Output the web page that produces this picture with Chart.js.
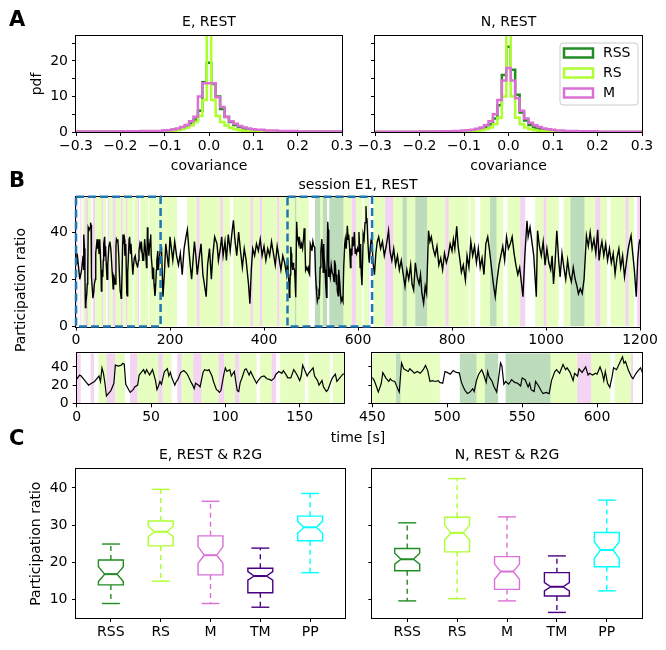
<!DOCTYPE html>
<html lang="en">
<head>
<meta charset="UTF-8">
<title>Participation ratio of brain states</title>
<script src="https://cdn.jsdelivr.net/npm/chart.js@4.4.0/dist/chart.umd.min.js"></script>
<style>
    body { margin: 0; background: #fff; font-family: 'DejaVu Sans', sans-serif; }
    #page { position: relative; width: 666px; height: 650px; overflow: hidden; }
    canvas { position: absolute; }
    .panel { position: absolute; font-weight: bold; font-size: 21px; line-height: 21px; color: #000; }
    .label { position: absolute; font-size: 14px; line-height: 17px; color: #000; white-space: nowrap; }
</style>
</head>
<body>
<div id="page">
    <canvas id="histE"></canvas>
    <canvas id="histN"></canvas>
    <canvas id="prMain"></canvas>
    <canvas id="prZoomA"></canvas>
    <canvas id="prZoomB"></canvas>
    <canvas id="boxE"></canvas>
    <canvas id="boxN"></canvas>

    <div class="panel" style="left:9px;top:9px">A</div>
    <div class="panel" style="left:9px;top:170px">B</div>
    <div class="panel" style="left:9px;top:428px">C</div>
    <div class="label" style="left:20px;top:290px;transform:translate(-50%,-50%) rotate(-90deg)">Participation ratio</div>
    <div class="label" style="left:358px;top:437px;transform:translate(-50%,-50%)">time [s]</div>
</div>

<script>
'use strict';

// ---------- A: covariance histograms ----------
// bin edges (finer near zero), one value per bin
const covEdges = [-0.3, -0.2, -0.155, -0.125, -0.105, -0.095, -0.085, -0.075, -0.065, -0.055, -0.045,
    -0.035, -0.025, -0.015, -0.005, 0.005, 0.015, 0.025, 0.035, 0.045, 0.055, 0.065, 0.075, 0.085,
    0.095, 0.105, 0.125, 0.155, 0.2, 0.3];

const histE_RSS = [0.05, 0.1, 0.15, 0.2, 0.3, 0.4, 0.6, 0.8, 1.1, 1.6, 2.4, 3.5, 6.0, 14.0, 19.5, 13.5, 10.0, 6.5, 4.2, 2.8, 2.0, 1.4, 1.0, 0.7, 0.5, 0.35, 0.2, 0.1, 0.05];
const histE_RS  = [0.02, 0.05, 0.08, 0.1, 0.15, 0.2, 0.3, 0.5, 0.8, 1.2, 1.8, 2.8, 4.5, 9.0, 40, 9.0, 4.5, 2.8, 1.8, 1.2, 0.8, 0.5, 0.3, 0.2, 0.15, 0.1, 0.08, 0.05, 0.02];
const histE_M   = [0.15, 0.2, 0.25, 0.3, 0.4, 0.5, 0.7, 1.0, 1.4, 2.0, 3.0, 4.3, 10.0, 13.7, 13.7, 13.7, 9.8, 7.0, 4.3, 3.0, 2.3, 1.7, 1.3, 1.0, 0.8, 0.6, 0.4, 0.25, 0.12];

const histN_RSS = [0.03, 0.05, 0.1, 0.15, 0.2, 0.3, 0.4, 0.6, 0.9, 1.4, 2.2, 3.8, 7.5, 16, 24, 17.5, 10.5, 5.5, 3.2, 2.0, 1.3, 0.9, 0.6, 0.4, 0.3, 0.2, 0.12, 0.06, 0.03];
const histN_RS  = [0.02, 0.04, 0.06, 0.08, 0.1, 0.15, 0.2, 0.3, 0.5, 0.8, 1.3, 2.2, 4.0, 10, 45, 10, 4.0, 2.2, 1.3, 0.8, 0.5, 0.3, 0.2, 0.15, 0.1, 0.08, 0.06, 0.04, 0.02];
const histN_M   = [0.1, 0.15, 0.2, 0.3, 0.4, 0.5, 0.6, 0.9, 1.3, 1.9, 3.0, 5.0, 9.0, 14.5, 18, 14.5, 9.5, 6.0, 3.8, 2.6, 1.9, 1.4, 1.0, 0.8, 0.6, 0.45, 0.3, 0.2, 0.1];

const covTicks = [-0.3, -0.2, -0.1, 0, 0.1, 0.2, 0.3];
const pdfTicks = [0, 5, 10, 15, 20, 25];

const stateNames = ['RSS', 'RS', 'M'];
const stateColors = { RSS: '#228b22', RS: '#adff2f', M: '#da70d6' };
const bandColors = { RSS: 'rgba(34,139,34,0.3)', RS: 'rgba(173,255,47,0.3)', M: 'rgba(218,112,214,0.3)' };

// ---------- B: participation ratio time series, session E1 ----------
const participation = [
    [0,26.7],[2,31],[3,30],[5,26],[7,22],[8,20],[10,22],[12,24],[13,26],[15,30],[16,24],[17,39],[18,33],[19,22],[20,8],[21,10],[23,14],[24,18],[25,22],[26,42],[28,41],[30,42],[31,44],[32,43],[33,21],[35,15],[36,12],[38,15],[39,18],[41,20],[42,31],[44,35],[45,37],[46,33],[47,37],[49,31],[50,34],[51,37],[53,25],[54,15],[55,19],[56,24],[57,21],[58,28],[59,35],[61,38],[62,30],[63,34],[64,28],[66,20],[67,24],[68,26],[70,34],[71,35],[72,36],[74,33],[75,30],[77,23],[78,20],[79,16],[80,22],[82,20],[83,18],[85,34],[86,37],[88,36],[89,37],[91,30],[92,24],[94,15],[95,14],[96,12],[97,14],[99,32],[100,39],[101,35],[103,37],[104,30],[106,35],[107,24],[108,14],[109,13],[110,23],[111,27],[113,37],[114,38],[116,31],[117,35],[119,28],[121,22],[122,25],[124,29],[126,30],[128,27],[130,26],[131,25],[133,28],[134,32],[136,35],[138,33],[139,36],[141,31],[142,28],[144,28],[146,37],[148,32],[150,25],[151,30],[152,42],[153,38],[155,30],[156,33],[158,37],[159,39],[160,30],[162,25],[163,20],[165,25],[166,18],[168,13],[169,15],[171,24],[172,28],[174,32],[175,24],[177,28],[179,32],
    [182,33],[185,12.6],[188,22],[191,35],[194,30],[197,25],[200,38],[203,33],[206,28],[210,36],[214,30],[218,26],[222,31],[226,22],[230,33],[234,38],[237,41],[240,33],[243,26],[246,20],[249,28],[252,36],[255,30],[258,22],[262,29],[266,35],[270,22],[273,18],[277,12.6],[280,26],[284,33],[288,20],[291,30],[295,38],[300,35],[303,28],[307,33],[310,38],[313,30],[317,36],[320,28],[324,39],[328,32],[332,40],[335,45],[338,37],[342,30],[346,40],[350,32],[354,25],[358,33],[362,28],[365,22],[367,18],[370,9.7],[373,24],[376,33],[380,30],[384,35],[388,32],[392,37],[396,30],[400,34],[404,28],[408,33],[412,30],[416,36],[420,31],[424,26],[428,34],[432,29],[436,24],[440,30],[444,27],[448,22],
    [450,28],[451,26],[452,22],[454,12.4],[455,17],[456,22],[457,33.8],[458,31],[459,28],[461,24],[462,27],[463,25],[465,24],[466,20],[467,16],[468,12.4],[469.5,44.4],[471,38],[472,37],[474,35],[475,38],[477,35],[478,33],[480,35],[482,33],[484,37],[485.5,41.6],[487,36],[488.5,24],[490,25],[492,24],[494,25],[495,23],[497,22],[498.5,35],[500,34],[502,32],[504,36],[506,34],[508,33.5],[509.5,23],[511,17],[512,14],[513.5,10.7],[515,12],[517,16],[518,13],[519.5,25],[521,32],[523,37],[524,33],[526,23],[527,35],[528,29],[530,24],[531,19],[533,12.4],[534,24],[535.6,44.4],[536.5,41],[537.8,21],[539,24],[541,21],[543,26],[545,23],[547,22],[549,19],[550,28],[552,26],[554,18],[555,22],[556,15],[558,13],[559,24],[561,19],[563,13],[564,10.7],[566,12],[568,10.7],[569.6,25],[571.8,35],[573,37],[575,33],[577.3,42.7],[579,37],[580,39],[582,34],[584,25],[585,33],[587,30],[588,38],[590,34],[592.4,40],[594,31],[595,33],[597,31],[599,33],[600,32],[602,40],[603.5,33],[604.5,25],[605.5,35],[607,22],[608.5,17.5],[610,29],[611,39],[613,37],[615,44],[617,51],[618,44],[619,46],[621,36],[623,29],[624,27],[626,33],[628,37],[629,39],
    [632,27],[635,22],[638,31],[641,36],[644,38],[648,33],[652,36],[656,30],[660,34],[665,40.6],[668,32],[672,28],[676,33],[680,26],[684,30],[688,24],[692,28],[697,21],[700,17],[704,24],[708,20],[712,26],[715,18],[718.5,15.4],[722,27],[726,21],[730,18],[733,22],[736,14],[739.6,9.8],[743,17],[746,14],[750,40.6],[753,36],[756,38],[760,33],[764,30],[768,34],[772,26],[776,29],[780,24],[784,31],[788,27],[792,30],[796,35],[800,32],[803,37],[806,33],[810,42.5],[813,34],[817,28],[820,23],[824,26],[828.5,19.6],[832,30],[836,25],[840,36],[844,30],[848,34],[852,27],[856,33],[860,25],[864,29],[868,22],[872,35],[876,38],[880,32],[884,25],[888,18],[892,12.6],[896,20],[900,26],[904,30],[908,34],[912,28],[916,38],[920,33],[924,35],[928,38],[932,31],[936,26],[940,22],[944,25],[948,18],[951,12.6],[955,30],[959.5,44.8],[962,38],[966,42],[970,36],[974,30],[977,20],[979.4,12.6],[982,40.6],[986,34],[990,30],[994,36],[998,26],[1002,33],[1006,27],[1010,24],[1013,30],[1016,18],[1019,26],[1023,40.6],[1027,28],[1030,21],[1034,31],[1038,25],[1042,20],[1046,28],[1050,22],[1054,19],[1058,25],[1062,20],[1066,17],[1069,13.8],[1073,16],[1077,14],[1081,20],[1086,38.5],[1090,34],[1094,40],[1098,33],[1102,37],[1106,31],[1110,41],[1113,28],[1116,33],[1119,36],[1123,30],[1127,35],[1131,28],[1135,33],[1139,27],[1143,31],[1147,22.3],[1151,29],[1155,33],[1159,25],[1163,30],[1167,21],[1171,27],[1175,33],[1178,36],[1181,38.5],[1184,32],[1188,24],[1192,12.6],[1195,28],[1198,35],[1200,37]
];

// state of each time window: [start s, end s, state]
const stateBands = [
    [0,2.7,'M'],[9.4,11.6,'M'],[14.6,20.1,'RS'],[20.1,25.8,'M'],[25.8,32.5,'RS'],[35.9,40.8,'M'],[40.8,54.9,'RS'],[54.9,57.8,'M'],[57.8,63.9,'RS'],[67.7,70.6,'M'],[70.6,78.4,'RS'],[78.4,84,'M'],[84,95.4,'RS'],[95.4,99.1,'M'],[99.1,106.5,'RS'],[106.5,109.4,'M'],[109.4,121,'RS'],[123.3,131.2,'RS'],[131.2,134.1,'M'],[136.8,153.6,'RS'],[155.8,170.4,'RS'],[172.2,180,'RS'],
    [180,215,'RS'],[236,257,'RS'],[257,263,'M'],[263,307,'RS'],[307,312.7,'M'],[312.7,328,'RS'],[334,371,'RS'],[371,376.5,'M'],[376.5,391,'RS'],[391,396,'M'],[396,428,'RS'],[428,432.5,'M'],[432.5,450,'RS'],
    [450,465.8,'RS'],[465.8,468.9,'RSS'],[468.9,495.1,'RS'],[508.4,519.6,'RSS'],[519.6,525.1,'RS'],[525.1,534,'RSS'],[539,569,'RSS'],[569,586.8,'RS'],[586.8,596.1,'M'],[596.1,609,'RS'],[611.7,622.8,'RS'],[622.8,624,'M'],
    [633,657.5,'RS'],[657.5,675,'M'],[675,695,'RS'],[695,704,'RSS'],[704,722,'RS'],[722,747,'RSS'],[747,786,'RS'],[786,793,'M'],[793,835.5,'RS'],[839,849,'RS'],[860,881,'RS'],[881,895,'RSS'],[895,909,'RS'],[918,945,'RS'],[945,956,'M'],[977,995,'RS'],[995,1001,'M'],[1001,1027,'RS'],[1037.5,1052,'RS'],[1052,1082,'RSS'],[1082,1105,'RS'],[1105,1115.5,'M'],[1115.5,1130,'RS'],[1137,1169,'RS'],[1169,1176,'M'],[1176,1187,'RS'],[1194,1200,'M']
];

const zoomWindows = [[0, 180], [450, 630]];
const timeTicks = [0, 200, 400, 600, 800, 1000, 1200];
const zoomTicksA = [0, 50, 100, 150];
const zoomTicksB = [450, 500, 550, 600];
const prTicks = [0, 20, 40];

// ---------- C: notched box plots ----------
const boxCategories = ['RSS', 'RS', 'M', 'TM', 'PP'];
const boxColors = ['#228b22', '#adff2f', '#da70d6', '#4b0082', '#00ffff'];
const boxTicks = [10, 20, 30, 40];

const eWhiskLo = [8.9, 14.9, 8.9, 7.9, 17.2];
const eQ1      = [13.9, 24.4, 16.6, 11.8, 25.8];
const eNotchLo = [14.8, 26.9, 19.7, 15.2, 27.8];
const eMedian  = [16.8, 28.2, 21.9, 16.3, 29.4];
const eNotchHi = [18.8, 29.7, 24.2, 17.5, 31.0];
const eQ3      = [20.6, 31.1, 27.1, 18.4, 32.4];
const eWhiskHi = [24.9, 39.6, 36.4, 23.8, 38.5];

const nWhiskLo = [9.6, 10.2, 9.6, 6.5, 12.3];
const nQ1      = [17.7, 22.8, 12.7, 10.9, 18.8];
const nNotchLo = [19.5, 26.0, 15.4, 12.3, 21.0];
const nMedian  = [20.8, 27.9, 17.5, 13.4, 23.3];
const nNotchHi = [22.4, 30.0, 19.5, 14.5, 25.5];
const nQ3      = [23.7, 32.1, 21.5, 17.2, 28.0];
const nWhiskHi = [30.6, 42.5, 32.2, 21.7, 36.7];

// ---------- helpers ----------
Chart.defaults.font.family = "'DejaVu Sans', sans-serif";
Chart.defaults.font.size = 14;
Chart.defaults.color = '#000';

const LH = 16.8; // 14px * 1.2

function axis(min, max, ticks, size, o) {
    o = o || {};
    return {
        type: 'linear', min: min, max: max, bounds: 'data',
        afterBuildTicks: s => { s.ticks = ticks.map(v => ({ value: v })); },
        grid: { drawOnChartArea: false, drawTicks: true, tickLength: 4, tickWidth: 1, color: '#000' },
        border: { display: false },
        ticks: {
            autoSkip: false, maxRotation: 0, minRotation: 0,
            padding: o.pad == null ? 3 : o.pad, color: '#000',
            callback: o.fmt || (v => String(v))
        },
        title: { display: !!o.title, text: o.title || '', color: '#000', padding: o.titlePad || 0 }
    };
}

const framePlugin = {
    id: 'frame',
    afterDatasetsDraw(chart) {
        const { ctx, chartArea: a } = chart;
        ctx.save();
        ctx.strokeStyle = '#000';
        ctx.lineWidth = 1;
        const l = Math.round(a.left) - 0.5, t = Math.round(a.top) - 0.5;
        ctx.strokeRect(l, t, Math.round(a.right) - Math.round(a.left) + 1, Math.round(a.bottom) - Math.round(a.top) + 1);
        ctx.restore();
    }
};

const bandPlugin = {
    id: 'bands',
    beforeDatasetsDraw(chart, args, o) {
        if (!o.segments) return;
        const { ctx, chartArea: a, scales: { x } } = chart;
        ctx.save();
        ctx.beginPath();
        ctx.rect(a.left, a.top, a.right - a.left, a.bottom - a.top);
        ctx.clip();
        o.segments.forEach(([s, e, st]) => {
            const x0 = x.getPixelForValue(s), x1 = x.getPixelForValue(e);
            ctx.fillStyle = bandColors[st];
            ctx.fillRect(x0, a.top, x1 - x0, a.bottom - a.top);
        });
        ctx.restore();
    }
};

const zoomBoxPlugin = {
    id: 'zoomBoxes',
    afterDraw(chart, args, o) {
        if (!o.windows) return;
        const { ctx, scales: { x, y } } = chart;
        ctx.save();
        ctx.strokeStyle = '#1f77b4';
        ctx.lineWidth = 2.5;
        ctx.setLineDash([8, 4]);
        o.windows.forEach(([s, e]) => {
            const x0 = x.getPixelForValue(s), x1 = x.getPixelForValue(e);
            const y0 = y.getPixelForValue(y.max), y1 = y.getPixelForValue(y.min);
            ctx.strokeRect(x0, y0, x1 - x0, y1 - y0);
        });
        ctx.restore();
    }
};

const legendPlugin = {
    id: 'stateLegend',
    afterDraw(chart, args, o) {
        if (!o.show) return;
        const { ctx, chartArea: a } = chart;
        const x0 = a.right - 82, y0 = a.top + 7, w = 78, h = 62, r = 3;
        ctx.save();
        ctx.beginPath();
        ctx.roundRect(x0, y0, w, h, r);
        ctx.fillStyle = 'rgba(255,255,255,0.8)';
        ctx.fill();
        ctx.strokeStyle = '#cccccc';
        ctx.lineWidth = 1;
        ctx.stroke();
        ctx.font = "14px 'DejaVu Sans', sans-serif";
        ctx.textBaseline = 'middle';
        chart.data.datasets.forEach((ds, i) => {
            const cy = y0 + 10 + i * 20;
            ctx.strokeStyle = ds.borderColor;
            ctx.lineWidth = 2.5;
            ctx.strokeRect(x0 + 4, cy - 4.5, 29, 9);
            ctx.fillStyle = '#000';
            ctx.fillText(ds.label, x0 + 43, cy);
        });
        ctx.restore();
    }
};

const boxPlugin = {
    id: 'boxes',
    afterDatasetsDraw(chart, args, o) {
        if (!o.med) return;
        const { ctx, scales: { x, y } } = chart;
        const line = (x0, y0, x1, y1) => { ctx.beginPath(); ctx.moveTo(x0, y0); ctx.lineTo(x1, y1); ctx.stroke(); };
        ctx.save();
        o.med.forEach((m, i) => {
            const pos = i + 1;
            const L = x.getPixelForValue(pos - 0.25), R = x.getPixelForValue(pos + 0.25);
            const wl = x.getPixelForValue(pos - 0.125), wr = x.getPixelForValue(pos + 0.125);
            const cl = x.getPixelForValue(pos - 0.18), cr = x.getPixelForValue(pos + 0.18);
            const xc = x.getPixelForValue(pos);
            const P = v => y.getPixelForValue(v);
            ctx.strokeStyle = boxColors[i];
            ctx.lineWidth = 1.4;
            ctx.setLineDash([]);
            ctx.beginPath();
            ctx.moveTo(L, P(o.q1[i])); ctx.lineTo(R, P(o.q1[i])); ctx.lineTo(R, P(o.nlo[i]));
            ctx.lineTo(wr, P(m)); ctx.lineTo(R, P(o.nhi[i])); ctx.lineTo(R, P(o.q3[i]));
            ctx.lineTo(L, P(o.q3[i])); ctx.lineTo(L, P(o.nhi[i])); ctx.lineTo(wl, P(m));
            ctx.lineTo(L, P(o.nlo[i])); ctx.closePath();
            ctx.stroke();
            ctx.lineWidth = 2;
            line(wl, P(m), wr, P(m));
            ctx.lineWidth = 1.4;
            line(cl, P(o.hi[i]), cr, P(o.hi[i]));
            line(cl, P(o.lo[i]), cr, P(o.lo[i]));
            ctx.setLineDash([5, 4]);
            line(xc, P(o.q3[i]), xc, P(o.hi[i]));
            line(xc, P(o.q1[i]), xc, P(o.lo[i]));
        });
        ctx.restore();
    }
};

// place a canvas so that its plot area lands on the given page rectangle
function place(id, box, area, config, title) {
    const cv = document.getElementById(id);
    cv.width = box.w; cv.height = box.h;
    cv.style.left = box.l + 'px'; cv.style.top = box.t + 'px';
    const topSpace = area.t - box.t;
    config.options.layout = {
        autoPadding: false,
        padding: { left: 0, right: box.l + box.w - area.r, bottom: 0, top: title ? 0 : topSpace }
    };
    config.options.scales.x.afterFit = s => { s.height = box.t + box.h - area.b; s.paddingLeft = s.paddingRight = s.paddingTop = s.paddingBottom = 0; };
    config.options.scales.y.afterFit = s => { s.width = area.l - box.l; s.paddingLeft = s.paddingRight = s.paddingTop = s.paddingBottom = 0; };
    if (title) {
        config.options.plugins.title = {
            display: true, text: title.text, color: '#000', fullSize: false,
            font: { size: 14, weight: 'normal' },
            padding: { top: title.cy - box.t - LH / 2, bottom: topSpace - LH - (title.cy - box.t - LH / 2) }
        };
    }
    config.options.responsive = false;
    config.options.animation = false;
    config.options.devicePixelRatio = 1;
    config.options.events = [];
    config.options.plugins.legend = { display: false };
    config.options.plugins.tooltip = { enabled: false };
    return new Chart(cv, config);
}

function stepPoints(values) {
    const last = covEdges[covEdges.length - 1];
    const pts = [{ x: covEdges[0], y: 0 }];
    values.forEach((v, i) => pts.push({ x: covEdges[i], y: v }));
    pts.push({ x: last, y: values[values.length - 1] });
    pts.push({ x: last, y: 0 });
    return pts;
}

const covFmt = v => (Math.abs(v) < 1e-9 ? '0.0' : v.toFixed(1).replace('-', '\u2212'));
const pdfFmt = v => (v % 10 === 0 ? String(v) : '');
const noLabel = () => '';

function histConfig(rss, rs, m, withLabels, legend) {
    const ds = (name, vals, order) => ({
        label: name, data: stepPoints(vals), stepped: true, borderColor: stateColors[name],
        borderWidth: 2.5, pointRadius: 0, fill: false, order: order
    });
    return {
        type: 'line',
        data: { datasets: [ds('RSS', rss, 3), ds('RS', rs, 2), ds('M', m, 1)] },
        options: {
            scales: {
                x: axis(-0.3, 0.3, covTicks, 0, { fmt: covFmt, pad: 2, title: 'covariance', titlePad: { top: 0, bottom: 3.5 } }),
                y: axis(0, 27, pdfTicks, 0, withLabels ? { fmt: pdfFmt, pad: 4, title: 'pdf', titlePad: { top: 28.6, bottom: 0 } } : { fmt: noLabel })
            },
            plugins: { stateLegend: { show: legend } }
        },
        plugins: [framePlugin, legendPlugin]
    };
}

const prPoints = participation.map(([t, v]) => ({ x: t, y: v }));

function prConfig(xmin, xmax, xticks, yLabels, lw, extra) {
    return {
        type: 'line',
        data: { datasets: [{ data: prPoints, borderColor: '#000', borderWidth: lw, pointRadius: 0, tension: 0 }] },
        options: {
            scales: {
                x: axis(xmin, xmax, xticks, 0, { pad: 1.5 }),
                y: axis(0, 55, prTicks, 0, yLabels ? { pad: 4 } : { fmt: noLabel })
            },
            plugins: Object.assign({ bands: { segments: stateBands } }, extra || {})
        },
        plugins: [bandPlugin, framePlugin, zoomBoxPlugin]
    };
}

function boxConfig(stats, withLabel) {
    return {
        type: 'scatter',
        data: { datasets: [{ data: stats.med.map((m, i) => ({ x: i + 1, y: m })), pointRadius: 0 }] },
        options: {
            scales: {
                x: axis(0.3, 5.7, [1, 2, 3, 4, 5], 0, { fmt: v => boxCategories[v - 1], pad: 2 }),
                y: axis(5, 45, boxTicks, 0, withLabel ? { pad: 4.5, title: 'Participation ratio', titlePad: { top: 28.1, bottom: 0 } } : { fmt: noLabel })
            },
            plugins: { boxes: stats }
        },
        plugins: [framePlugin, boxPlugin]
    };
}

// ---------- build ----------
place('histE', { l: 0, t: 0, w: 355, h: 178 }, { l: 76, t: 36, r: 342, b: 132 },
    histConfig(histE_RSS, histE_RS, histE_M, true, false), { text: 'E, REST', cy: 22.5 });
place('histN', { l: 345, t: 0, w: 321, h: 178 }, { l: 375, t: 36, r: 642, b: 132 },
    histConfig(histN_RSS, histN_RS, histN_M, false, true), { text: 'N, REST', cy: 22.5 });

place('prMain', { l: 0, t: 170, w: 666, h: 182 }, { l: 76, t: 196.7, r: 640, b: 326.5 },
    prConfig(0, 1200, timeTicks, true, 1.4, { zoomBoxes: { windows: zoomWindows } }), { text: 'session E1, REST', cy: 185 });
place('prZoomA', { l: 0, t: 346, w: 358, h: 78 }, { l: 76.7, t: 353.3, r: 344.3, b: 403.3 },
    prConfig(zoomWindows[0][0], zoomWindows[0][1], zoomTicksA, true, 1.2));
place('prZoomB', { l: 345, t: 346, w: 321, h: 78 }, { l: 372.3, t: 353.3, r: 642, b: 403.3 },
    prConfig(zoomWindows[1][0], zoomWindows[1][1], zoomTicksB, false, 1.2));

place('boxE', { l: 0, t: 445, w: 358, h: 205 }, { l: 76, t: 469.3, r: 345, b: 618 },
    boxConfig({ lo: eWhiskLo, q1: eQ1, nlo: eNotchLo, med: eMedian, nhi: eNotchHi, q3: eQ3, hi: eWhiskHi }, true),
    { text: 'E, REST & R2G', cy: 455.5 });
place('boxN', { l: 345, t: 445, w: 321, h: 205 }, { l: 372.3, t: 469.3, r: 641.7, b: 618 },
    boxConfig({ lo: nWhiskLo, q1: nQ1, nlo: nNotchLo, med: nMedian, nhi: nNotchHi, q3: nQ3, hi: nWhiskHi }, false),
    { text: 'N, REST & R2G', cy: 455.5 });
</script>
</body>
</html>
